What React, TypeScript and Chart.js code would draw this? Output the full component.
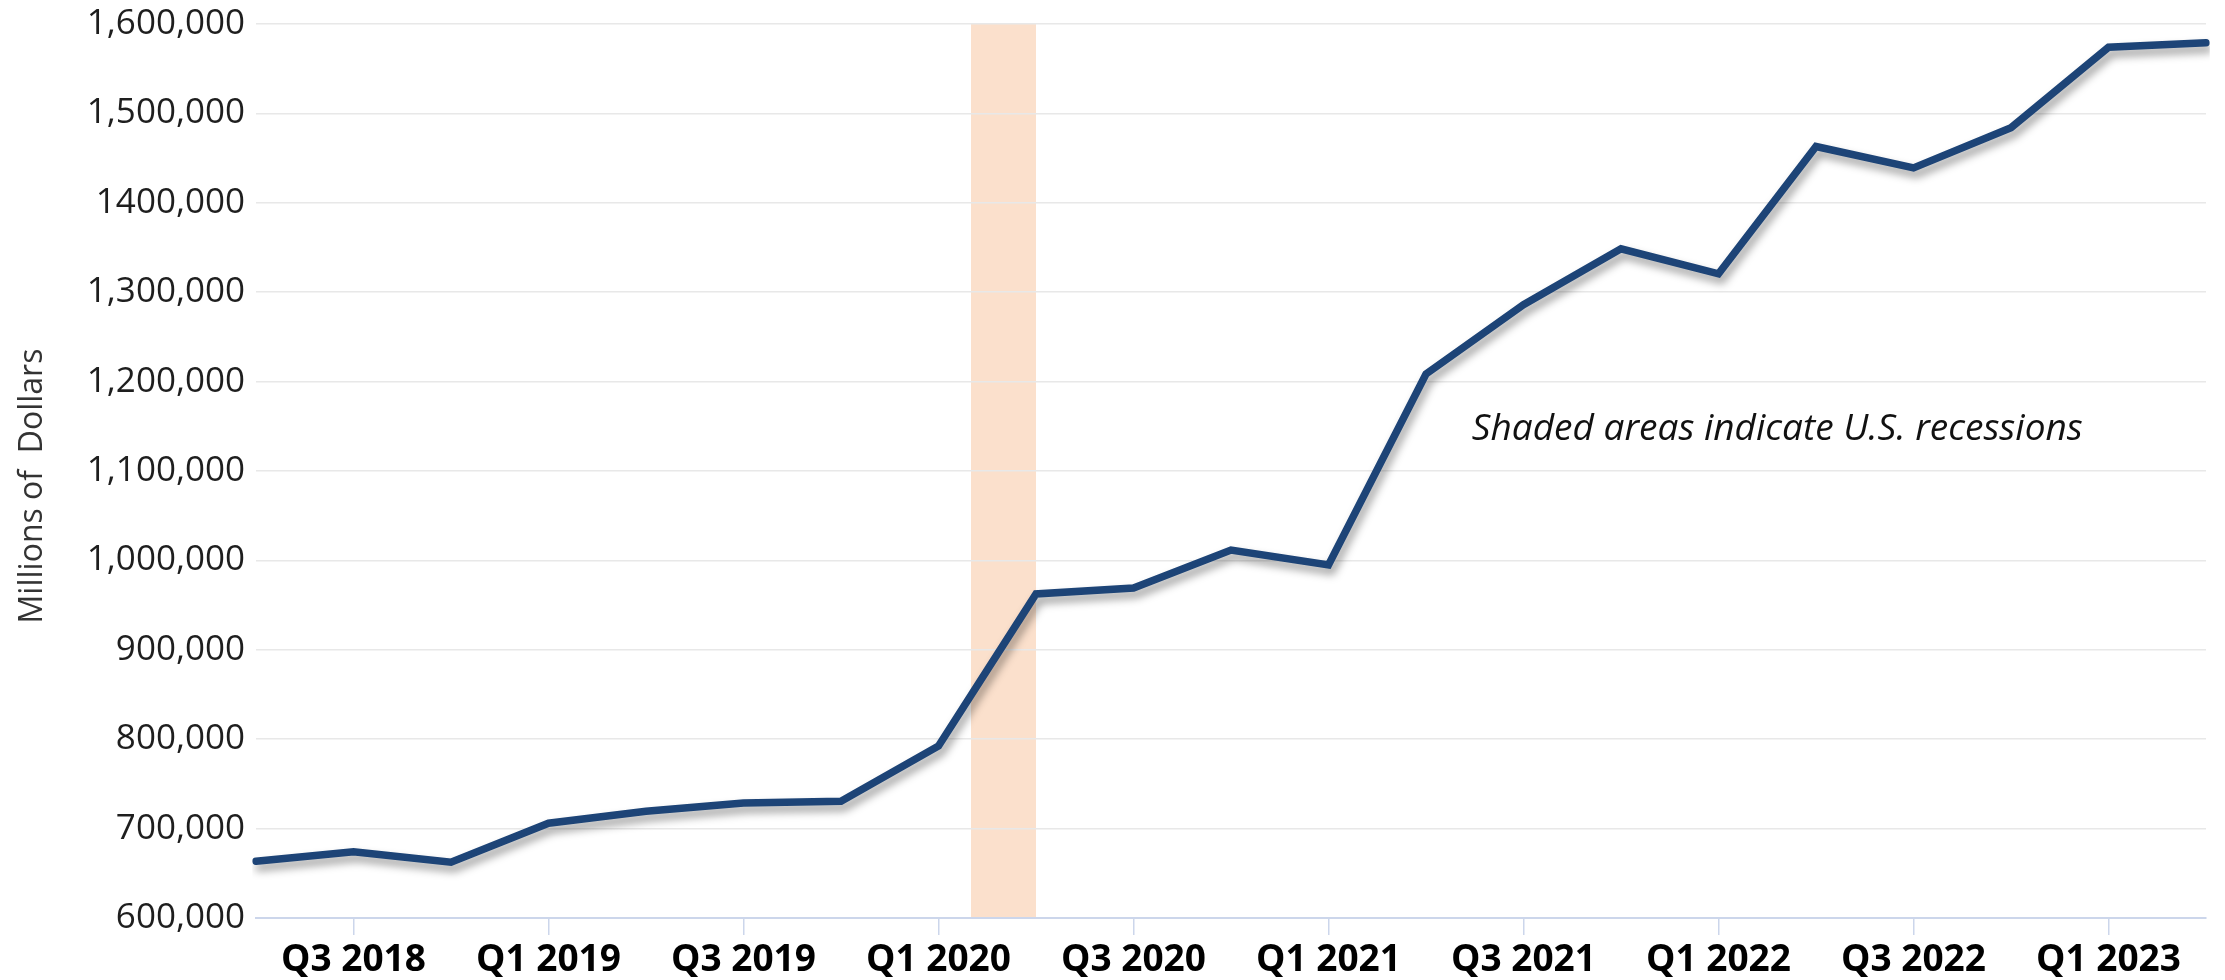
import React, { useEffect, useRef } from 'react';
import { Chart, registerables } from 'chart.js';

Chart.register(...registerables);

const categories = [
  'Q2 2018', 'Q3 2018', 'Q4 2018',
  'Q1 2019', 'Q2 2019', 'Q3 2019', 'Q4 2019',
  'Q1 2020', 'Q2 2020', 'Q3 2020', 'Q4 2020',
  'Q1 2021', 'Q2 2021', 'Q3 2021', 'Q4 2021',
  'Q1 2022', 'Q2 2022', 'Q3 2022', 'Q4 2022',
  'Q1 2023', 'Q2 2023',
];

const values = [
  663500, 674000, 662500,
  706000, 719500, 728500, 730500,
  792500, 962500, 969000, 1011500,
  995000, 1208500, 1286000, 1348500,
  1320500, 1463000, 1439000, 1484000,
  1574000, 1579000,
];

const yTickValues = [600000, 700000, 800000, 900000, 1000000, 1100000, 1200000, 1300000, 1400000, 1500000, 1600000];
const yTickLabels = ['600,000', '700,000', '800,000', '900,000', '1,000,000', '1,100,000', '1,200,000', '1,300,000', '1400,000', '1,500,000', '1,600,000'];

const shownTickLabels = ['Q3 2018', 'Q1 2019', 'Q3 2019', 'Q1 2020', 'Q3 2020', 'Q1 2021', 'Q3 2021', 'Q1 2022', 'Q3 2022', 'Q1 2023'];

// recession: from one third into Q1 2020 up to Q2 2020 (category index units)
const recessionStart = 7 + 1 / 3;
const recessionEnd = 8;

const yAxisTitle = 'Millions of  Dollars';
const noteText = 'Shaded areas indicate U.S. recessions';

const LINE_COLOR = '#1d4477';
const BAND_COLOR = '#fbe0cc';
const AXIS_COLOR = '#ccd6eb';

const recessionPlugin = {
  id: 'recessionBand',
  beforeDraw(chart: any) {
    const { ctx, chartArea, scales } = chart;
    const x0 = scales.x.getPixelForValue(recessionStart);
    const x1 = scales.x.getPixelForValue(recessionEnd);
    ctx.save();
    ctx.fillStyle = BAND_COLOR;
    ctx.fillRect(x0, chartArea.top, x1 - x0, chartArea.bottom - chartArea.top);
    ctx.restore();
  },
};

const shadowPlugin = {
  id: 'lineShadow',
  beforeDatasetDraw(chart: any) {
    const ctx = chart.ctx;
    ctx.save();
    ctx.shadowColor = 'rgba(0,0,0,0.38)';
    ctx.shadowBlur = 8;
    ctx.shadowOffsetX = 3;
    ctx.shadowOffsetY = 6;
  },
  afterDatasetDraw(chart: any) {
    chart.ctx.restore();
  },
};

const textPlugin = {
  id: 'texts',
  afterDraw(chart: any) {
    const { ctx, scales, chartArea } = chart;
    // note inside plot
    const x = scales.x.getPixelForValue(12.47);
    const y = scales.y.getPixelForValue(1134800);
    ctx.save();
    ctx.font = 'italic 37px "Open Sans"';
    ctx.fillStyle = '#111111';
    ctx.textAlign = 'left';
    ctx.textBaseline = 'alphabetic';
    ctx.fillText(noteText, x, y);
    ctx.restore();
    // y axis title
    const cy = (chartArea.top + chartArea.bottom) / 2 + 15;
    ctx.save();
    ctx.translate(33, cy);
    ctx.rotate(-Math.PI / 2);
    ctx.font = '32px "Open Sans"';
    ctx.fillStyle = '#333333';
    ctx.textAlign = 'center';
    ctx.textBaseline = 'middle';
    ctx.fillText(yAxisTitle, 0, 0);
    ctx.restore();
  },
};

export default function App() {
  const canvasRef = useRef<HTMLCanvasElement | null>(null);

  useEffect(() => {
    const canvas = canvasRef.current;
    if (!canvas) return;
    const chart = new Chart(canvas, {
      type: 'line',
      data: {
        labels: categories,
        datasets: [
          {
            data: values,
            borderColor: LINE_COLOR,
            borderWidth: 7.5,
            pointRadius: 0,
            tension: 0,
            fill: false,
            borderJoinStyle: 'miter',
            borderCapStyle: 'round',
          },
        ],
      },
      options: {
        animation: false,
        responsive: true,
        maintainAspectRatio: false,
        layout: { padding: { top: 24, right: 19, left: 0, bottom: 0 } },
        plugins: {
          legend: { display: false },
          tooltip: { enabled: false },
          title: { display: false },
        },
        scales: {
          x: {
            type: 'category',
            offset: false,
            afterFit: (s: any) => {
              s.height = 62;
              s.paddingLeft = 0;
              s.paddingRight = 0;
            },
            border: { display: true, color: AXIS_COLOR, width: 2 },
            grid: {
              drawOnChartArea: false,
              drawTicks: true,
              tickLength: 17,
              lineWidth: 1.5,
              color: (c: any) => (shownTickLabels.includes(categories[c.index]) ? AXIS_COLOR : 'rgba(0,0,0,0)'),
              tickColor: (c: any) => (shownTickLabels.includes(categories[c.index]) ? AXIS_COLOR : 'rgba(0,0,0,0)'),
            },
            ticks: {
              autoSkip: false,
              maxRotation: 0,
              minRotation: 0,
              padding: 3,
              color: '#000000',
              font: { family: '"Open Sans"', size: 37, weight: 'bold' },
              callback: (v: any, i: number) => (shownTickLabels.includes(categories[i]) ? categories[i] : ''),
            },
          },
          y: {
            type: 'linear',
            min: 600000,
            max: 1600000,
            afterFit: (s: any) => {
              s.width = 256;
              s.paddingTop = 0;
              s.paddingBottom = 0;
            },
            afterBuildTicks: (s: any) => { s.ticks = yTickValues.map((v) => ({ value: v })); },
            border: { display: false },
            grid: {
              drawTicks: false,
              color: '#e8e8e8',
              lineWidth: 1.5,
            },
            ticks: {
              padding: 11,
              color: '#1e1e1e',
              font: { family: '"Open Sans"', size: 35, weight: 'normal' },
              callback: (v: any) => {
                const i = yTickValues.indexOf(Number(v));
                return i >= 0 ? yTickLabels[i] : '';
              },
            },
            title: { display: false },
          },
        },
      },
      plugins: [recessionPlugin, shadowPlugin, textPlugin],
    });
    if ((document as any).fonts && (document as any).fonts.ready) {
      (document as any).fonts.ready.then(() => chart.update());
    }
    return () => chart.destroy();
  }, []);

  return (
    <div style={{ position: 'fixed', left: 0, top: 0, width: 2225, height: 980, background: '#ffffff' }}>
      <canvas ref={canvasRef} />
    </div>
  );
}
